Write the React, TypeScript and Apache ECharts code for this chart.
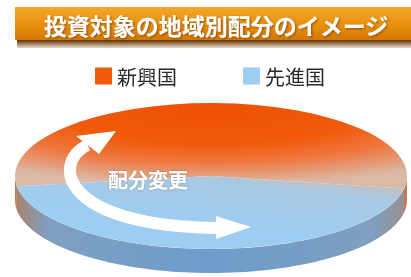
import React, { useEffect, useRef } from 'react';
import * as echarts from 'echarts';

const titleText = '投資対象の地域別配分のイメージ';
const categories = ['新興国', '先進国'];
const shares = [55, 45];
const arrowLabel = '配分変更';

const FONT = '"Noto Sans CJK JP", "Noto Sans", sans-serif';
const COLORS = ['#ef5a0c', '#9dcdf0'];

export default function App() {
  const ref = useRef<HTMLDivElement>(null);
  useEffect(() => {
    const chart = echarts.init(ref.current!, null, { renderer: 'svg' });
    const total = shares.reduce((a, b) => a + b, 0);
    const START = 172;
    const CX = 211, CY = 176, RX = 196, RY = 73, TH = 24;
    const d2r = Math.PI / 180;

    const visibleRanges = (s: number, e: number) => {
      const out: [number, number][] = [];
      for (const [lo, hi] of [[0, 180], [360, 540]]) {
        const a = Math.max(s, lo), b = Math.min(e, hi);
        if (b > a) out.push([a, b]);
      }
      return out;
    };
    const sidePoints = (a: number, b: number) => {
      const top: number[][] = [];
      const bot: number[][] = [];
      const n = Math.max(2, Math.ceil((b - a) / 2));
      for (let k = 0; k <= n; k++) {
        const t = (a + ((b - a) * k) / n) * d2r;
        top.push([CX + RX * Math.cos(t), CY + RY * Math.sin(t)]);
        bot.push([CX + RX * Math.cos(t), CY + RY * Math.sin(t) + TH]);
      }
      return top.concat(bot.reverse());
    };

    const sideFill = (i: number) =>
      i === 0
        ? new echarts.graphic.LinearGradient(0, 0, 1, 0, [
            { offset: 0, color: '#c0743e' },
            { offset: 1, color: '#b98466' },
          ])
        : {
            type: 'linear', x: 0, y: 0, x2: 1, y2: 0, global: false,
            colorStops: [
              { offset: 0, color: '#a88270' },
              { offset: 0.08, color: '#7fa0c0' },
              { offset: 0.5, color: '#6c9dcc' },
              { offset: 0.92, color: '#7e9fbf' },
              { offset: 1, color: '#9a9090' },
            ],
          };
    const topFill = (i: number) =>
      i === 0
        ? {
            type: 'radial', x: 0.5, y: 0.1, r: 0.85, global: false,
            colorStops: [
              { offset: 0, color: '#ee5000' },
              { offset: 0.45, color: '#f05a0a' },
              { offset: 0.7, color: '#ef7840' },
              { offset: 1, color: '#dcb8a6' },
            ],
          }
        : {
            type: 'linear', x: 0.95, y: 0, x2: 0.55, y2: 0.7, global: false,
            colorStops: [
              { offset: 0, color: '#d6b8a4' },
              { offset: 0.35, color: '#a8c9e4' },
              { offset: 1, color: '#9dcdf0' },
            ],
          };

    const makeSeries = (i: number) => ({
      type: 'custom',
      name: categories[i],
      coordinateSystem: 'none',
      itemStyle: { color: COLORS[i] },
      data: [[shares[i]]],
      z: 2,
      renderItem: (params: any, api: any) => {
        const v = api.value(0) as number;
        const before = shares.slice(0, i).reduce((a, b) => a + b, 0);
        const s = START + (before / total) * 360;
        const e = s + (v / total) * 360;
        const children: any[] = [];
        for (const [a, b] of visibleRanges(s, e)) {
          children.push({
            type: 'polygon',
            shape: { points: sidePoints(a, b) },
            style: { fill: sideFill(i) },
            z2: 1,
          });
        }
        children.push({
          type: 'sector',
          x: CX,
          y: CY,
          scaleY: RY / RX,
          shape: { cx: 0, cy: 0, r0: 0, r: RX, startAngle: s * d2r, endAngle: e * d2r, clockwise: true },
          style: { fill: topFill(i) },
          z2: 2,
        });
        return { type: 'group', children };
      },
    });

    chart.setOption({
      animation: false,
      legend: {
        data: categories,
        left: 90,
        top: 61,
        icon: 'rect',
        itemWidth: 17,
        itemHeight: 17,
        itemGap: 66,
        textStyle: { fontSize: 20, color: '#2a2a2a', fontFamily: FONT },
      },
      graphic: [
        {
          type: 'rect',
          shape: { x: 17, y: 12, width: 400, height: 36 },
          style: {
            fill: new echarts.graphic.LinearGradient(0, 0, 0, 1, [
              { offset: 0, color: '#a05a10' },
              { offset: 0.8, color: '#6e3a08' },
              { offset: 1, color: 'rgba(120,70,20,0.2)' },
            ]),
          },
          z: 1,
        },
        {
          type: 'rect',
          shape: { x: 15, y: 7, width: 400, height: 33 },
          style: {
            fill: new echarts.graphic.LinearGradient(0, 0, 0, 1, [
              { offset: 0, color: '#f4a82a' },
              { offset: 0.5, color: '#ea9210' },
              { offset: 1, color: '#d47800' },
            ]),
          },
          z: 2,
        },
        {
          type: 'text',
          x: 216,
          y: 25,
          z: 3,
          style: {
            text: titleText,
            fill: '#ffffff',
            font: `bold 23px ${FONT}`,
            align: 'center',
            verticalAlign: 'middle',
            textShadowColor: 'rgba(110,50,0,0.7)',
            textShadowBlur: 2,
            textShadowOffsetX: 1,
            textShadowOffsetY: 1,
          },
        },
        {
          type: 'bezierCurve',
          z: 10,
          shape: { x1: 87.5, y1: 145, cpx1: 51.5, cpy1: 163, cpx2: 60, cpy2: 226, x2: 218, y2: 228 },
          style: { stroke: '#ffffff', lineWidth: 12, fill: 'none' },
        },
        {
          type: 'polygon',
          z: 10,
          shape: { points: [[76, 136], [116, 131], [99, 154]] },
          style: { fill: '#ffffff' },
        },
        {
          type: 'polygon',
          z: 10,
          shape: { points: [[216, 216], [251, 227], [216, 239]] },
          style: { fill: '#ffffff' },
        },
        {
          type: 'text',
          x: 148,
          y: 179,
          z: 10,
          style: {
            text: arrowLabel,
            fill: '#ffffff',
            font: `bold 20px ${FONT}`,
            align: 'center',
            verticalAlign: 'middle',
            textShadowColor: 'rgba(120,90,80,0.5)',
            textShadowBlur: 2,
          },
        },
      ],
      series: [makeSeries(0), makeSeries(1)],
    });
    return () => chart.dispose();
  }, []);
  return <div ref={ref} style={{ position: 'fixed', left: 0, top: 0, width: 411, height: 277 }} />;
}
